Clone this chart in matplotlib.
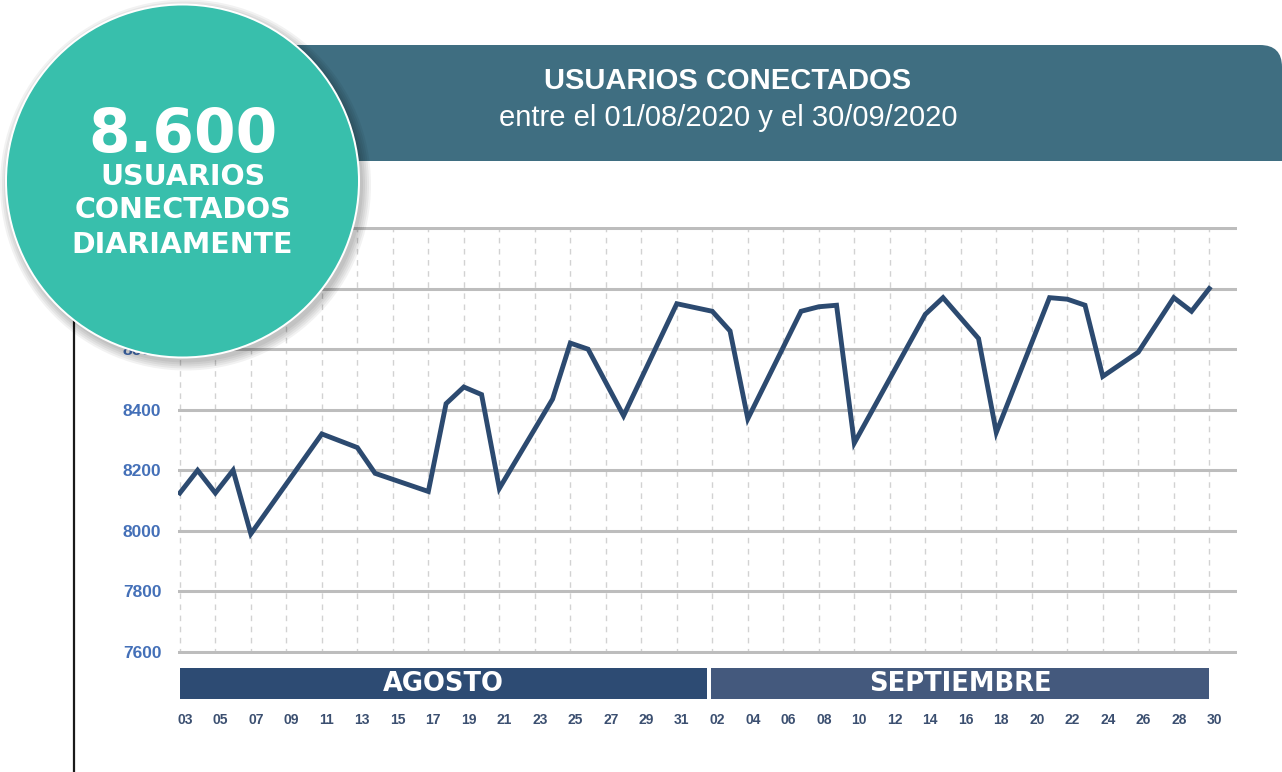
import pandas as pd
import matplotlib
matplotlib.use('Agg')
import matplotlib.pyplot as plt
import matplotlib.dates as mdates
from matplotlib.patches import Circle, Rectangle, FancyBboxPatch
from matplotlib.transforms import blended_transform_factory, ScaledTranslation

# vertices de la linea
fechas = ['2020-08-03', '2020-08-04', '2020-08-05', '2020-08-06', '2020-08-07',
          '2020-08-11', '2020-08-13', '2020-08-14', '2020-08-17', '2020-08-18',
          '2020-08-19', '2020-08-20', '2020-08-21', '2020-08-24', '2020-08-25',
          '2020-08-26', '2020-08-28', '2020-08-31', '2020-09-02', '2020-09-03',
          '2020-09-04', '2020-09-07', '2020-09-08', '2020-09-09', '2020-09-10',
          '2020-09-14', '2020-09-15', '2020-09-17', '2020-09-18', '2020-09-21',
          '2020-09-22', '2020-09-23', '2020-09-24', '2020-09-26', '2020-09-28',
          '2020-09-29', '2020-09-30']
usuarios = [8125, 8200, 8125, 8200, 7990,
            8320, 8275, 8190, 8130, 8420,
            8475, 8450, 8140, 8435, 8620,
            8600, 8380, 8750, 8725, 8660,
            8370, 8725, 8740, 8745, 8290,
            8715, 8770, 8635, 8325, 8770,
            8765, 8745, 8510, 8590, 8770,
            8725, 8800]

meses = ['AGOSTO', 'SEPTIEMBRE']
inicio_mes = ['2020-08-03 00:00', '2020-09-01 22:00']
fin_mes = ['2020-09-01 16:45', '2020-09-30 00:00']
colores_mes = ['#2d4b73', '#44597d']

valores_y = [7600, 7800, 8000, 8200, 8400, 8600, 8800, 9000]
# 8800 y 9000 quedan tapados por el circulo en el original
etiquetas_y = ['7600', '7800', '8000', '8200', '8400', '8600', '', '']
ticks_x = list(pd.date_range('2020-08-03', '2020-08-31', freq='2D')) + \
          list(pd.date_range('2020-09-02', '2020-09-30', freq='2D'))

total_diario = '8.600'
lineas_circulo = ['USUARIOS', 'CONECTADOS', 'DIARIAMENTE']
titulo = 'USUARIOS CONECTADOS'
subtitulo = 'entre el 01/08/2020 y el 30/09/2020'

W, H = 1282, 772
fig = plt.figure(figsize=(W / 100, H / 100), dpi=100)
fig.patch.set_facecolor('white')

# zona del grafico (en pixeles: 178..1237 x 226.5..653.5)
ax = fig.add_axes([178 / W, (H - 653.5) / H, (1237 - 178) / W, 427 / H])
x = pd.to_datetime(fechas)
ax.plot(x, usuarios, color='#2c4a70', lw=3.5, solid_joinstyle='miter', zorder=3)

ax.set_xlim(pd.Timestamp('2020-08-02 21:30'), pd.Timestamp('2020-10-01 13:30'))
ax.set_ylim(7595, 9005)
ax.set_yticks(valores_y)
ax.set_yticklabels(etiquetas_y)
ax.set_xticks(ticks_x)
ax.xaxis.set_major_formatter(mdates.DateFormatter('%d'))
for s in ax.spines.values():
    s.set_visible(False)
ax.grid(axis='y', color='#bdbdbd', lw=2.2)
ax.grid(axis='x', color='#d2d2d2', lw=1, ls=(0, (4, 4)))
ax.set_axisbelow(True)
ax.tick_params(axis='both', length=0)
ax.tick_params(axis='y', pad=12, labelsize=12.5, labelcolor='#4470b8')
ax.tick_params(axis='x', pad=43, labelsize=10, labelcolor='#3b4f70')
for lab in ax.get_yticklabels():
    lab.set_fontfamily('Liberation Sans')
    lab.set_fontweight('bold')
off = ScaledTranslation(5 / 100, 0, fig.dpi_scale_trans)
for lab in ax.get_xticklabels():
    lab.set_fontfamily('Liberation Sans')
    lab.set_fontweight('bold')
    lab.set_transform(lab.get_transform() + off)

# barras de meses bajo el eje
tr = blended_transform_factory(ax.transData, ax.transAxes)
for mes, ini, fin, col in zip(meses, inicio_mes, fin_mes, colores_mes):
    x0 = mdates.date2num(pd.Timestamp(ini))
    x1 = mdates.date2num(pd.Timestamp(fin))
    ax.add_patch(Rectangle((x0, -0.1066), x1 - x0, 0.0726, transform=tr,
                           facecolor=col, edgecolor='none', clip_on=False))
    ax.text((x0 + x1) / 2, -0.0705, mes, transform=tr, ha='center', va='center',
            color='white', fontsize=18.5, fontweight='bold', family='DejaVu Sans')

# capa superior en pixeles: cabecera, circulo, linea izquierda
ov = fig.add_axes([0, 0, 1, 1], zorder=5)
ov.set_xlim(0, W)
ov.set_ylim(H, 0)
ov.axis('off')

banner = '#3f6e81'
ov.add_patch(FancyBboxPatch((250, 45), W - 250, 116,
                            boxstyle='round,pad=0,rounding_size=22',
                            facecolor=banner, edgecolor='none'))
ov.add_patch(Rectangle((250, 80), W - 250, 81, facecolor=banner, edgecolor='none'))
ov.add_patch(Rectangle((250, 45), 980, 116, facecolor=banner, edgecolor='none'))
ov.text(728, 89, titulo, ha='center', va='baseline', color='white',
        fontsize=21, fontweight='bold', family='Liberation Sans')
ov.text(728, 126, subtitulo, ha='center', va='baseline', color='white',
        fontsize=21, family='Liberation Sans')

ov.plot([74, 74], [290, H], color='#1a1a1a', lw=1.6, zorder=1)

cx, cy, r = 182.5, 181, 175.5
for i in range(5):
    ov.add_patch(Circle((cx + 3, cy + 4), r + 2 + 2 * i, facecolor='black',
                        alpha=0.05, edgecolor='none', zorder=2))
ov.add_patch(Circle((cx, cy), r + 2, facecolor='white', edgecolor='none', zorder=3))
ov.add_patch(Circle((cx, cy), r, facecolor='#38bfac', edgecolor='none', zorder=4))
ov.text(cx, 152, total_diario, ha='center', va='baseline', color='white',
        fontsize=43, fontweight='bold', family='DejaVu Sans', zorder=5)
for txt, yb in zip(lineas_circulo, [185, 218, 253]):
    ov.text(cx, yb, txt, ha='center', va='baseline', color='white',
            fontsize=20.5, fontweight='bold', family='DejaVu Sans', zorder=5)

fig.savefig('out.png', dpi=100, facecolor='white')
